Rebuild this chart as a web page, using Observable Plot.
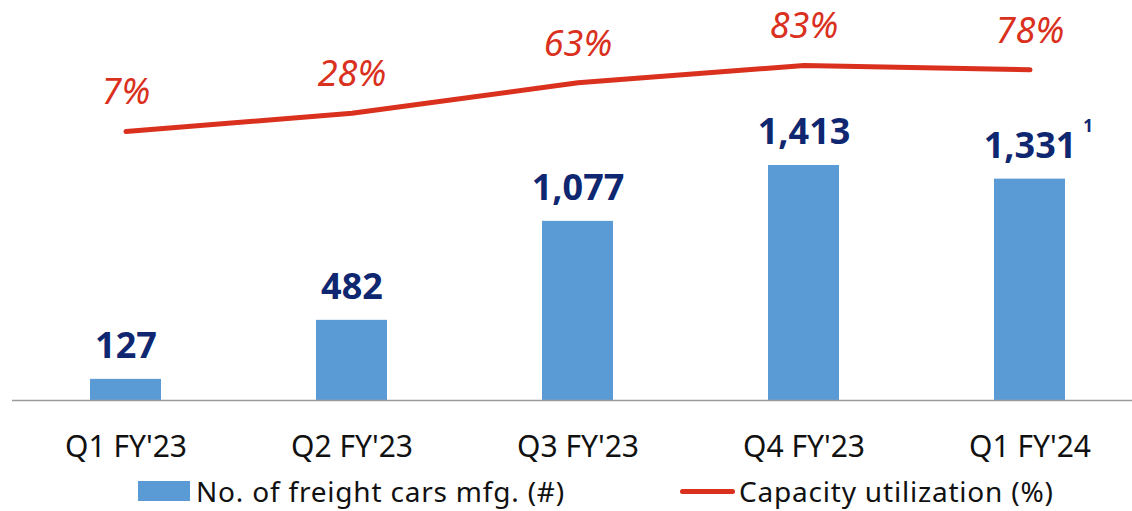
<!DOCTYPE html>
<html>
<head>
<meta charset="utf-8">
<script src="https://cdn.jsdelivr.net/npm/d3@7"></script>
<script src="https://cdn.jsdelivr.net/npm/@observablehq/plot@0.6"></script>
<style>
  body { margin: 0; background: #fff; font-family: "Noto Sans", "Open Sans", sans-serif; }
  #wrap { position: relative; width: 1132px; height: 511px; overflow: hidden; }
  #legend { position: absolute; left: 0; top: 470px; width: 1132px; height: 41px; font-size: 28px; letter-spacing: 0.8px; color: #111; }
  .item { position: absolute; top: 0; display: flex; align-items: center; height: 42px; white-space: nowrap; }
  .sw { display: inline-block; width: 52px; height: 20px; background: #5B9BD5; margin-right: 6px; }
  .ln { display: inline-block; width: 55px; height: 5px; border-radius: 3px; background: #DA301E; margin-right: 4px; }
</style>
</head>
<body>
<div id="wrap">
  <div id="chart"></div>
  <div id="legend">
    <div class="item" style="left:138px"><span class="sw"></span><span>No. of freight cars mfg. (#)</span></div>
    <div class="item" style="left:680px"><span class="ln"></span><span>Capacity utilization (%)</span></div>
  </div>
</div>
<script>
const quarters = ["Q1 FY'23", "Q2 FY'23", "Q3 FY'23", "Q4 FY'23", "Q1 FY'24"];
const freightCars = [127, 482, 1077, 1413, 1331];
const utilization = [7, 28, 63, 83, 78];
const footnotes = ["", "", "", "", "1"];

const data = quarters.map((q, i) => ({q, cars: freightCars[i], pct: utilization[i], note: footnotes[i]}));

// secondary axis: percentages placed in the upper band of the chart
const pctToY = d3.scaleLinear().domain([0, 100]).range([1581, 2103]);

const barColor = "#5B9BD5";
const labelColor = "#0E2770";
const lineColor = "#DA301E";

const chart = Plot.plot({
  width: 1132,
  height: 470,
  marginTop: 0,
  marginBottom: 70,
  marginLeft: 12,
  marginRight: 0,
  style: {fontFamily: "'Noto Sans', 'Open Sans', sans-serif", background: "#fff"},
  x: {domain: quarters, range: [12.5, 1142.5], paddingInner: 0.686, paddingOuter: 0.343, label: null},
  y: {domain: [0, 2405], axis: null},
  marks: [
    Plot.barY(data, {x: "q", y: "cars", fill: barColor}),
    Plot.ruleY([0], {stroke: "#9a9a9a", strokeWidth: 1.5}),
    Plot.text(data, {x: "q", y: "cars", text: d => d3.format(",")(d.cars), lineAnchor: "bottom", dy: -21, fill: labelColor, fontSize: 36, fontWeight: "bold"}),
    Plot.text(data, {x: "q", y: "cars", text: "note", lineAnchor: "bottom", dx: 58, dy: -47, fill: labelColor, fontSize: 17, fontWeight: "bold"}),
    Plot.line(data, {x: "q", y: d => pctToY(d.pct), stroke: lineColor, strokeWidth: 5, strokeLinecap: "round", strokeLinejoin: "round"}),
    Plot.text(data, {x: "q", y: d => pctToY(d.pct), text: d => d.pct + "%", lineAnchor: "bottom", dy: -27, fill: lineColor, fontSize: 36, fontStyle: "italic"}),
    Plot.axisX({tickSize: 0, tickPadding: 35, fontSize: 30, fill: "#111", label: null})
  ]
});
document.getElementById("chart").appendChild(chart);
</script>
</body>
</html>
